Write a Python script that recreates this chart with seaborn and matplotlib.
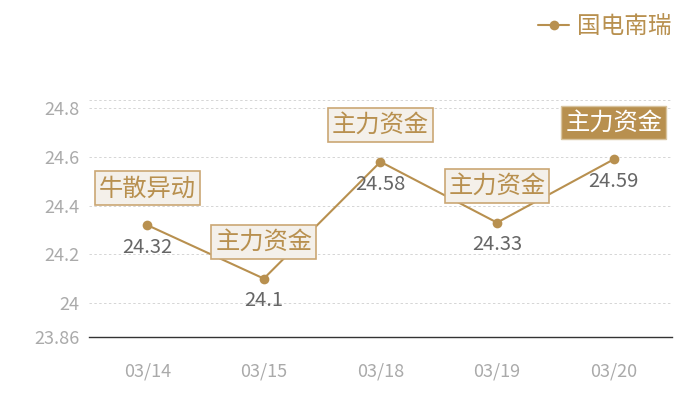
import matplotlib
matplotlib.use("Agg")
import matplotlib.pyplot as plt
import seaborn as sns
import pandas as pd

# Data
dates = ["03/14", "03/15", "03/18", "03/19", "03/20"]
prices = [24.32, 24.1, 24.58, 24.33, 24.59]
tags = ["牛散异动", "主力资金", "主力资金", "主力资金", "主力资金"]
highlight = [False, False, False, False, True]
series_name = "国电南瑞"
y_ticks = [23.86, 24.0, 24.2, 24.4, 24.6, 24.8]
y_tick_labels = ["23.86", "24", "24.2", "24.4", "24.6", "24.8"]

gold = "#B8904F"
box_fill = "#F4F0EA"
box_edge = "#CBA774"

sns.set_theme(style="white")
plt.rcParams["font.family"] = ["Noto Sans CJK SC", "DejaVu Sans"]

df = pd.DataFrame({"date": dates, "price": prices})

fig = plt.figure(figsize=(7, 4), dpi=100)
ax = fig.add_axes([0.127, 0.1575, 0.833, 0.5925])

sns.lineplot(data=df, x="date", y="price", ax=ax, color=gold, marker="o",
             markersize=7, markeredgewidth=0, linewidth=1.5, label=series_name,
             sort=False, zorder=3)

ax.set_xlim(-0.5, len(dates) - 0.5)
ax.set_ylim(23.86, 24.834)
ax.set_yticks(y_ticks)
ax.set_yticklabels(y_tick_labels)
ax.set_xlabel("")
ax.set_ylabel("")

for y in y_ticks[1:] + [24.834]:
    ax.axhline(y, color="#D5D5D5", linewidth=0.7, linestyle=(0, (2.5, 2.5)), zorder=1)

for s in ["top", "right", "left"]:
    ax.spines[s].set_visible(False)
ax.spines["bottom"].set_color("#333333")
ax.spines["bottom"].set_linewidth(1.0)

ax.tick_params(axis="y", length=0, pad=7, labelsize=13, labelcolor="#AAAAAA")
ax.tick_params(axis="x", length=0, pad=18, labelsize=13, labelcolor="#AAAAAA")

for i, (p, t, h) in enumerate(zip(prices, tags, highlight)):
    ax.annotate(f"{p:g}", (i, p), xytext=(0, -16), textcoords="offset points",
                ha="center", va="center", fontsize=14.5, color="#666666", zorder=4)
    if h:
        bbox = dict(boxstyle="square,pad=0.16", fc=gold, ec="#D8C4A0", lw=1)
        tc = "white"
    else:
        bbox = dict(boxstyle="square,pad=0.16", fc=box_fill, ec=box_edge, lw=1.2)
        tc = gold
    ax.annotate(t, (i, p), xytext=(0, 26.5), textcoords="offset points",
                ha="center", va="center", fontsize=17.5, color=tc, bbox=bbox,
                zorder=5)

ax.get_legend().remove()
handles, labels = ax.get_legend_handles_labels()
leg = fig.legend(handles, labels, loc="upper right", bbox_to_anchor=(0.99, 1.015),
                 frameon=False, fontsize=17, handlelength=1.3, handletextpad=0.35,
                 labelcolor=gold)

fig.savefig("out.png", dpi=100)
